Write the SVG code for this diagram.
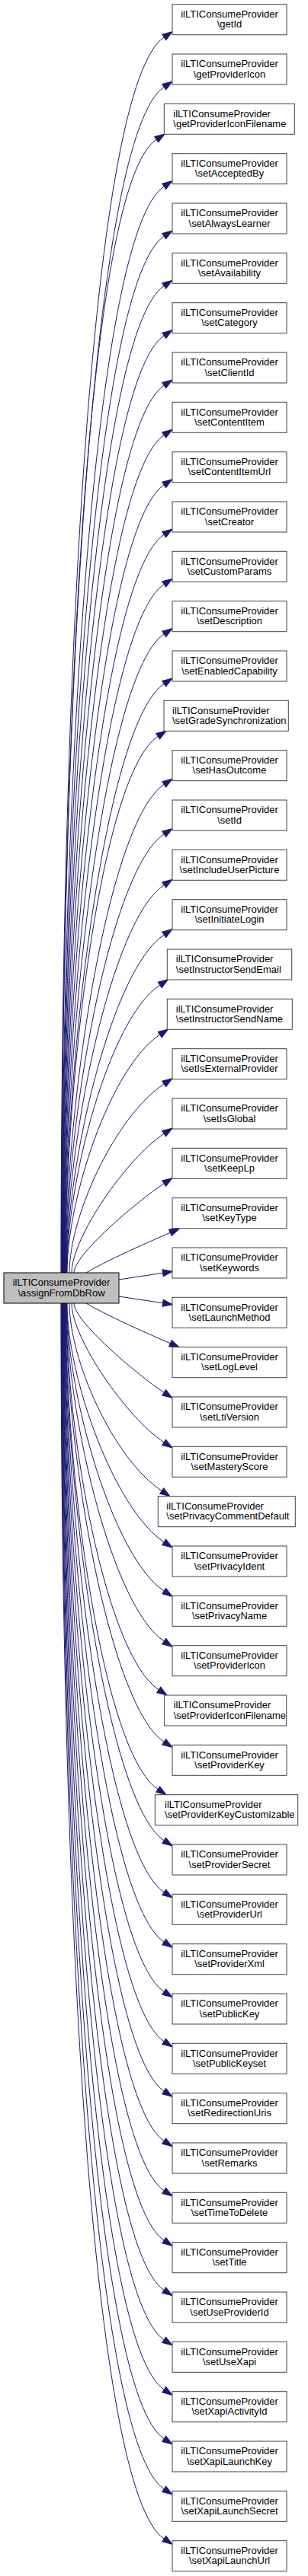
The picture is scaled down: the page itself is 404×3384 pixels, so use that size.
<svg xmlns="http://www.w3.org/2000/svg" width="404" height="3384" viewBox="0 0 404 3384">
<defs>
<style>
.node rect{fill:#ffffff;stroke:#404040;stroke-width:1}
#main rect{fill:#bfbfbf;stroke:#000000}
.node text{font-family:"Liberation Sans",Arial,Helvetica,sans-serif;font-size:13px;fill:#000000;text-anchor:middle}
.node text.l{text-anchor:start}
#edges path{fill:none;stroke:#191970;stroke-width:1;marker-end:url(#arr)}
</style>
<marker id="arr" markerUnits="userSpaceOnUse" markerWidth="14" markerHeight="10" viewBox="0 0 14 10" refX="0" refY="5" orient="auto" overflow="visible">
<path d="M0,0.5 L13,5 L0,9.5 Z" fill="#191970" stroke="#191970" stroke-width="1"/>
</marker>
</defs>
<rect width="404" height="3384" fill="#ffffff"/>
<g id="edges">
<g id="edges-up">
<path d="M80,1672 C80,860.4 121.2,111.6 215.2,48.9"/>
<path d="M80.4,1672 C80.4,907.9 122.6,176 215.2,114.2"/>
<path d="M80.8,1672 C80.8,955.9 114,244 205.2,183.2"/>
<path d="M81.2,1672 C81.2,999.3 125.4,304.8 215.2,244.9"/>
<path d="M81.6,1672 C81.6,1043 126.9,369.1 215.2,310.2"/>
<path d="M82,1672 C82,1085.5 128.3,433.4 215.2,375.5"/>
<path d="M82.4,1672 C82.4,1126.7 129.8,497.9 215.2,440.9"/>
<path d="M82.8,1672 C82.8,1166.8 131.2,562.3 215.2,506.2"/>
<path d="M83.2,1672 C83.2,1205.6 132.6,626.6 215.2,571.5"/>
<path d="M83.6,1672 C83.6,1243.2 134,691.1 215.2,636.9"/>
<path d="M84,1672 C84,1279.4 135.4,755.4 215.2,702.2"/>
<path d="M84.4,1672 C84.4,1314.5 136.9,819.7 215.2,767.5"/>
<path d="M84.8,1672 C84.8,1348.4 138.3,884.2 215.2,832.9"/>
<path d="M85.2,1672 C85.2,1380.9 139.7,948.5 215.2,898.2"/>
<path d="M85.6,1672 C85.6,1413.5 133.2,1016.6 207.2,967.2"/>
<path d="M86,1672 C86,1442.9 142.6,1078.9 215.2,1030.4"/>
<path d="M86.4,1672 C86.4,1471.7 144,1143.2 215.2,1095.7"/>
<path d="M86.8,1672 C86.8,1499.7 145.4,1209.1 215.2,1162.5"/>
<path d="M87.2,1672 C87.2,1526.1 146.9,1273.5 215.2,1227.9"/>
<path d="M87.6,1672 C87.6,1551.4 142.8,1338.5 209.7,1293.9"/>
<path d="M88,1672 C88,1575.2 144.2,1402.9 209.7,1359.2"/>
<path d="M91,1672 C91,1597.6 151.1,1466.6 215.2,1423.9"/>
<path d="M94,1672 C94,1626.3 165.3,1522.5 215.2,1489.2"/>
<path d="M97,1672 C97,1648.5 177.8,1579.7 215.2,1554.7"/>
<path d="M113,1672 C140,1656 185,1636 223.4,1619.2"/>
<path d="M156,1681 L213.6,1672.2"/>
</g>
<g id="edges-down" transform="matrix(1,0,0,-1,0,3384)">
<path d="M80,1672 C80,860.4 121.2,111.6 215.2,48.9"/>
<path d="M80.4,1672 C80.4,907.9 122.6,176 215.2,114.2"/>
<path d="M80.8,1672 C80.8,954.4 124,241 215.2,180.2"/>
<path d="M81.2,1672 C81.2,999.3 125.4,304.8 215.2,244.9"/>
<path d="M81.6,1672 C81.6,1043 126.9,369.1 215.2,310.2"/>
<path d="M82,1672 C82,1085.5 128.3,433.4 215.2,375.5"/>
<path d="M82.4,1672 C82.4,1126.7 129.8,497.9 215.2,440.9"/>
<path d="M82.8,1672 C82.8,1166.8 131.2,562.3 215.2,506.2"/>
<path d="M83.2,1672 C83.2,1205.6 132.6,626.6 215.2,571.5"/>
<path d="M83.6,1672 C83.6,1243.2 134,691.1 215.2,636.9"/>
<path d="M84,1672 C84,1279.4 135.4,755.4 215.2,702.2"/>
<path d="M84.4,1672 C84.4,1314.5 136.9,819.7 215.2,767.5"/>
<path d="M84.8,1672 C84.8,1348.4 138.3,884.2 215.2,832.9"/>
<path d="M85.2,1672 C85.2,1380.9 139.7,948.5 215.2,898.2"/>
<path d="M85.6,1672 C85.6,1413.2 141.2,1015.6 215.2,966.2"/>
<path d="M86,1672 C86,1444 134.6,1082 207.2,1033.5"/>
<path d="M86.4,1672 C86.4,1471.7 144,1143.2 215.2,1095.7"/>
<path d="M86.8,1672 C86.8,1500.3 138.4,1210.8 208.2,1164.2"/>
<path d="M87.2,1672 C87.2,1526.1 146.9,1273.5 215.2,1227.9"/>
<path d="M87.6,1672 C87.6,1551.4 148.3,1338.5 215.2,1293.9"/>
<path d="M88,1672 C88,1574.9 149.7,1401.9 215.2,1358.2"/>
<path d="M91,1672 C91,1598 148.1,1468.2 212.2,1425.5"/>
<path d="M94,1672 C94,1626.3 165.3,1522.5 215.2,1489.2"/>
<path d="M97,1672 C97,1648.5 177.8,1579.7 215.2,1554.7"/>
<path d="M113,1672 C140,1656 185,1636 223.4,1619.2"/>
<path d="M156,1681 L213.6,1672.2"/>
</g>
</g>
<g id="main" class="node" transform="translate(5,1672)"><rect width="151" height="40"/><text x="75.5" y="17.3">ilLTIConsumeProvider</text><text x="75.5" y="30.6">\assignFromDbRow</text></g>
<g id="n0" class="node" transform="translate(226,5.7)"><rect width="150" height="40"/><text x="75" y="17.3">ilLTIConsumeProvider</text><text x="75" y="30.6">\getId</text></g>
<g id="n1" class="node" transform="translate(226,71)"><rect width="150" height="40"/><text x="75" y="17.3">ilLTIConsumeProvider</text><text x="75" y="30.6">\getProviderIcon</text></g>
<g id="n2" class="node" transform="translate(215.3,136.3)"><rect width="171" height="40"/><text class="l" x="12" y="17.3">ilLTIConsumeProvider</text><text class="l" x="12" y="30.6">\getProviderIconFilename</text></g>
<g id="n3" class="node" transform="translate(226,201.7)"><rect width="150" height="40"/><text x="75" y="17.3">ilLTIConsumeProvider</text><text x="75" y="30.6">\setAcceptedBy</text></g>
<g id="n4" class="node" transform="translate(226,267)"><rect width="150" height="40"/><text x="75" y="17.3">ilLTIConsumeProvider</text><text x="75" y="30.6">\setAlwaysLearner</text></g>
<g id="n5" class="node" transform="translate(226,332.3)"><rect width="150" height="40"/><text x="75" y="17.3">ilLTIConsumeProvider</text><text x="75" y="30.6">\setAvailability</text></g>
<g id="n6" class="node" transform="translate(226,397.7)"><rect width="150" height="40"/><text x="75" y="17.3">ilLTIConsumeProvider</text><text x="75" y="30.6">\setCategory</text></g>
<g id="n7" class="node" transform="translate(226,463)"><rect width="150" height="40"/><text x="75" y="17.3">ilLTIConsumeProvider</text><text x="75" y="30.6">\setClientId</text></g>
<g id="n8" class="node" transform="translate(226,528.3)"><rect width="150" height="40"/><text x="75" y="17.3">ilLTIConsumeProvider</text><text x="75" y="30.6">\setContentItem</text></g>
<g id="n9" class="node" transform="translate(226,593.7)"><rect width="150" height="40"/><text x="75" y="17.3">ilLTIConsumeProvider</text><text x="75" y="30.6">\setContentItemUrl</text></g>
<g id="n10" class="node" transform="translate(226,659)"><rect width="150" height="40"/><text x="75" y="17.3">ilLTIConsumeProvider</text><text x="75" y="30.6">\setCreator</text></g>
<g id="n11" class="node" transform="translate(226,724.3)"><rect width="150" height="40"/><text x="75" y="17.3">ilLTIConsumeProvider</text><text x="75" y="30.6">\setCustomParams</text></g>
<g id="n12" class="node" transform="translate(226,789.7)"><rect width="150" height="40"/><text x="75" y="17.3">ilLTIConsumeProvider</text><text x="75" y="30.6">\setDescription</text></g>
<g id="n13" class="node" transform="translate(226,855)"><rect width="150" height="40"/><text x="75" y="17.3">ilLTIConsumeProvider</text><text x="75" y="30.6">\setEnabledCapability</text></g>
<g id="n14" class="node" transform="translate(215,920.3)"><rect width="163.3" height="40"/><text class="l" x="11" y="17.3">ilLTIConsumeProvider</text><text class="l" x="11" y="30.6">\setGradeSynchronization</text></g>
<g id="n15" class="node" transform="translate(226,985.7)"><rect width="150" height="40"/><text x="75" y="17.3">ilLTIConsumeProvider</text><text x="75" y="30.6">\setHasOutcome</text></g>
<g id="n16" class="node" transform="translate(226,1051)"><rect width="150" height="40"/><text x="75" y="17.3">ilLTIConsumeProvider</text><text x="75" y="30.6">\setId</text></g>
<g id="n17" class="node" transform="translate(226,1116.3)"><rect width="150" height="40"/><text x="75" y="17.3">ilLTIConsumeProvider</text><text x="75" y="30.6">\setIncludeUserPicture</text></g>
<g id="n18" class="node" transform="translate(226,1181.7)"><rect width="150" height="40"/><text x="75" y="17.3">ilLTIConsumeProvider</text><text x="75" y="30.6">\setInitiateLogin</text></g>
<g id="n19" class="node" transform="translate(219.3,1247)"><rect width="163.4" height="40"/><text class="l" x="11.5" y="17.3">ilLTIConsumeProvider</text><text class="l" x="11.5" y="30.6">\setInstructorSendEmail</text></g>
<g id="n20" class="node" transform="translate(219.3,1312.3)"><rect width="164" height="40"/><text class="l" x="11.5" y="17.3">ilLTIConsumeProvider</text><text class="l" x="11.5" y="30.6">\setInstructorSendName</text></g>
<g id="n21" class="node" transform="translate(226,1377.7)"><rect width="150" height="40"/><text x="75" y="17.3">ilLTIConsumeProvider</text><text x="75" y="30.6">\setIsExternalProvider</text></g>
<g id="n22" class="node" transform="translate(226,1443)"><rect width="150" height="40"/><text x="75" y="17.3">ilLTIConsumeProvider</text><text x="75" y="30.6">\setIsGlobal</text></g>
<g id="n23" class="node" transform="translate(226,1508.3)"><rect width="150" height="40"/><text x="75" y="17.3">ilLTIConsumeProvider</text><text x="75" y="30.6">\setKeepLp</text></g>
<g id="n24" class="node" transform="translate(226,1573.7)"><rect width="150" height="40"/><text x="75" y="17.3">ilLTIConsumeProvider</text><text x="75" y="30.6">\setKeyType</text></g>
<g id="n25" class="node" transform="translate(226,1639)"><rect width="150" height="40"/><text x="75" y="17.3">ilLTIConsumeProvider</text><text x="75" y="30.6">\setKeywords</text></g>
<g id="n26" class="node" transform="translate(226,1704.3)"><rect width="150" height="40"/><text x="75" y="17.3">ilLTIConsumeProvider</text><text x="75" y="30.6">\setLaunchMethod</text></g>
<g id="n27" class="node" transform="translate(226,1769.7)"><rect width="150" height="40"/><text x="75" y="17.3">ilLTIConsumeProvider</text><text x="75" y="30.6">\setLogLevel</text></g>
<g id="n28" class="node" transform="translate(226,1835)"><rect width="150" height="40"/><text x="75" y="17.3">ilLTIConsumeProvider</text><text x="75" y="30.6">\setLtiVersion</text></g>
<g id="n29" class="node" transform="translate(226,1900.3)"><rect width="150" height="40"/><text x="75" y="17.3">ilLTIConsumeProvider</text><text x="75" y="30.6">\setMasteryScore</text></g>
<g id="n30" class="node" transform="translate(207.3,1965.7)"><rect width="180" height="40"/><text class="l" x="11" y="17.3">ilLTIConsumeProvider</text><text class="l" x="11" y="30.6">\setPrivacyCommentDefault</text></g>
<g id="n31" class="node" transform="translate(226,2031)"><rect width="150" height="40"/><text x="75" y="17.3">ilLTIConsumeProvider</text><text x="75" y="30.6">\setPrivacyIdent</text></g>
<g id="n32" class="node" transform="translate(226,2096.3)"><rect width="150" height="40"/><text x="75" y="17.3">ilLTIConsumeProvider</text><text x="75" y="30.6">\setPrivacyName</text></g>
<g id="n33" class="node" transform="translate(226,2161.7)"><rect width="150" height="40"/><text x="75" y="17.3">ilLTIConsumeProvider</text><text x="75" y="30.6">\setProviderIcon</text></g>
<g id="n34" class="node" transform="translate(215.7,2227)"><rect width="160" height="40"/><text class="l" x="12" y="17.3">ilLTIConsumeProvider</text><text class="l" x="12" y="30.6">\setProviderIconFilename</text></g>
<g id="n35" class="node" transform="translate(226,2292.3)"><rect width="150" height="40"/><text x="75" y="17.3">ilLTIConsumeProvider</text><text x="75" y="30.6">\setProviderKey</text></g>
<g id="n36" class="node" transform="translate(203.3,2357.7)"><rect width="187.4" height="40"/><text class="l" x="12.7" y="17.3">ilLTIConsumeProvider</text><text class="l" x="12.7" y="30.6">\setProviderKeyCustomizable</text></g>
<g id="n37" class="node" transform="translate(226,2423)"><rect width="150" height="40"/><text x="75" y="17.3">ilLTIConsumeProvider</text><text x="75" y="30.6">\setProviderSecret</text></g>
<g id="n38" class="node" transform="translate(226,2488.3)"><rect width="150" height="40"/><text x="75" y="17.3">ilLTIConsumeProvider</text><text x="75" y="30.6">\setProviderUrl</text></g>
<g id="n39" class="node" transform="translate(226,2553.7)"><rect width="150" height="40"/><text x="75" y="17.3">ilLTIConsumeProvider</text><text x="75" y="30.6">\setProviderXml</text></g>
<g id="n40" class="node" transform="translate(226,2619)"><rect width="150" height="40"/><text x="75" y="17.3">ilLTIConsumeProvider</text><text x="75" y="30.6">\setPublicKey</text></g>
<g id="n41" class="node" transform="translate(226,2684.3)"><rect width="150" height="40"/><text x="75" y="17.3">ilLTIConsumeProvider</text><text x="75" y="30.6">\setPublicKeyset</text></g>
<g id="n42" class="node" transform="translate(226,2749.7)"><rect width="150" height="40"/><text x="75" y="17.3">ilLTIConsumeProvider</text><text x="75" y="30.6">\setRedirectionUris</text></g>
<g id="n43" class="node" transform="translate(226,2815)"><rect width="150" height="40"/><text x="75" y="17.3">ilLTIConsumeProvider</text><text x="75" y="30.6">\setRemarks</text></g>
<g id="n44" class="node" transform="translate(226,2880.3)"><rect width="150" height="40"/><text x="75" y="17.3">ilLTIConsumeProvider</text><text x="75" y="30.6">\setTimeToDelete</text></g>
<g id="n45" class="node" transform="translate(226,2945.7)"><rect width="150" height="40"/><text x="75" y="17.3">ilLTIConsumeProvider</text><text x="75" y="30.6">\setTitle</text></g>
<g id="n46" class="node" transform="translate(226,3011)"><rect width="150" height="40"/><text x="75" y="17.3">ilLTIConsumeProvider</text><text x="75" y="30.6">\setUseProviderId</text></g>
<g id="n47" class="node" transform="translate(226,3076.3)"><rect width="150" height="40"/><text x="75" y="17.3">ilLTIConsumeProvider</text><text x="75" y="30.6">\setUseXapi</text></g>
<g id="n48" class="node" transform="translate(226,3141.7)"><rect width="150" height="40"/><text x="75" y="17.3">ilLTIConsumeProvider</text><text x="75" y="30.6">\setXapiActivityId</text></g>
<g id="n49" class="node" transform="translate(226,3207)"><rect width="150" height="40"/><text x="75" y="17.3">ilLTIConsumeProvider</text><text x="75" y="30.6">\setXapiLaunchKey</text></g>
<g id="n50" class="node" transform="translate(226,3272.3)"><rect width="150" height="40"/><text x="75" y="17.3">ilLTIConsumeProvider</text><text x="75" y="30.6">\setXapiLaunchSecret</text></g>
<g id="n51" class="node" transform="translate(226,3337.7)"><rect width="150" height="40"/><text x="75" y="17.3">ilLTIConsumeProvider</text><text x="75" y="30.6">\setXapiLaunchUrl</text></g>
</svg>
